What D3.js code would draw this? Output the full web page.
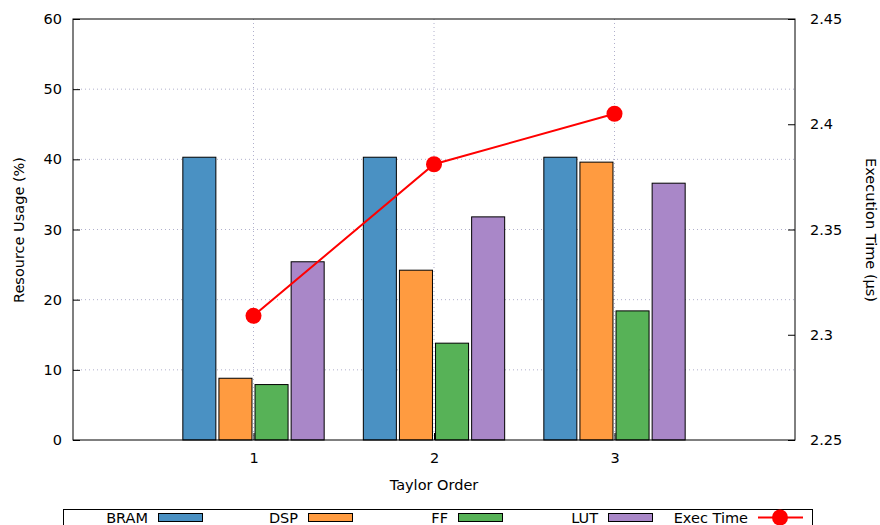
<!DOCTYPE html>
<html>
<head>
<meta charset="utf-8">
<script src="https://cdn.jsdelivr.net/npm/d3@7"></script>
<style>
  html, body { margin: 0; padding: 0; background: #fff; }
  svg { display: block; font-family: "DejaVu Sans", sans-serif; }
</style>
</head>
<body>
<svg id="chart" width="880" height="525"></svg>
<script>
// Taylor order categories and per-resource utilisation (%)
const orders = [1, 2, 3];
const bram = [40.3, 40.3, 40.3];
const dsp = [8.8, 24.2, 39.6];
const ff = [7.9, 13.8, 18.4];
const lut = [25.4, 31.8, 36.6];
// Execution time (µs) on the secondary axis
const execTime = [2.309, 2.381, 2.405];

const leftTicks = [0, 10, 20, 30, 40, 50, 60];
const rightTicks = [2.25, 2.3, 2.35, 2.4, 2.45];

const seriesNames = ["BRAM", "DSP", "FF", "LUT"];
const seriesValues = [bram, dsp, ff, lut];
const seriesColors = ["#4a91c3", "#ff9b40", "#57b257", "#a987c8"];

const svg = d3.select("#chart");
const m = { left: 73, right: 795, top: 19, bottom: 440 };

const x = d3.scaleLinear().domain([0, 4]).range([m.left, m.right]);
const y = d3.scaleLinear().domain([0, 60]).range([m.bottom, m.top]);
const y2 = d3.scaleLinear().domain([2.25, 2.45]).range([m.bottom, m.top]);

const gridColor = "#b0b0cc";
const fontSize = 14.5;

// grid
const grid = svg.append("g");
grid.selectAll("line.h").data(leftTicks.filter(t => t > 0 && t < 60)).join("line")
  .attr("x1", m.left).attr("x2", m.right)
  .attr("y1", d => y(d)).attr("y2", d => y(d))
  .attr("stroke", gridColor).attr("stroke-width", 1).attr("stroke-dasharray", "1,3");
grid.selectAll("line.v").data(orders).join("line")
  .attr("x1", d => x(d)).attr("x2", d => x(d))
  .attr("y1", m.top).attr("y2", m.bottom)
  .attr("stroke", gridColor).attr("stroke-width", 1).attr("stroke-dasharray", "1,3");

// bars
const barW = 0.183;
const offsets = [-0.3, -0.1, 0.1, 0.3];
seriesValues.forEach((vals, si) => {
  svg.append("g").selectAll("rect").data(orders).join("rect")
    .attr("x", (d, i) => x(d + offsets[si] - barW / 2))
    .attr("width", x(barW) - x(0))
    .attr("y", (d, i) => y(vals[i]))
    .attr("height", (d, i) => y(0) - y(vals[i]))
    .attr("fill", seriesColors[si])
    .attr("stroke", "#000").attr("stroke-width", 1);
});

// line series on secondary axis
const line = d3.line().x((d, i) => x(orders[i])).y(d => y2(d));
svg.append("path").datum(execTime)
  .attr("d", line).attr("fill", "none")
  .attr("stroke", "#ff0000").attr("stroke-width", 2);
svg.append("g").selectAll("circle").data(execTime).join("circle")
  .attr("cx", (d, i) => x(orders[i])).attr("cy", d => y2(d))
  .attr("r", 8).attr("fill", "#ff0000");

// axes
const leftAxis = d3.axisLeft(y).tickValues(leftTicks).tickFormat(d3.format("d"))
  .tickSizeInner(-7).tickSizeOuter(0).tickPadding(11);
const gL = svg.append("g").attr("transform", `translate(${m.left},0)`).call(leftAxis);

const rightAxis = d3.axisRight(y2).tickValues(rightTicks).tickFormat(d => String(+d.toFixed(2)))
  .tickSizeInner(-7).tickSizeOuter(0).tickPadding(15);
const gR = svg.append("g").attr("transform", `translate(${m.right},0)`).call(rightAxis);

const bottomAxis = d3.axisBottom(x).tickValues(orders).tickFormat(d3.format("d"))
  .tickSizeInner(-7).tickSizeOuter(0).tickPadding(13);
const gB = svg.append("g").attr("transform", `translate(0,${m.bottom})`).call(bottomAxis);

[gL, gR, gB].forEach(g => {
  g.select(".domain").remove();
  g.selectAll("text").attr("font-size", fontSize).attr("fill", "#000")
    .attr("font-family", "DejaVu Sans, sans-serif");
  g.selectAll(".tick line").attr("stroke", "#000");
});

// frame
svg.append("rect").attr("x", m.left).attr("y", m.top)
  .attr("width", m.right - m.left).attr("height", m.bottom - m.top)
  .attr("fill", "none").attr("stroke", "#000").attr("stroke-width", 1);

// axis titles
svg.append("text").attr("x", (m.left + m.right) / 2).attr("y", 490)
  .attr("text-anchor", "middle").attr("font-size", fontSize).text("Taylor Order");
svg.append("text").attr("transform", `translate(24,230) rotate(-90)`)
  .attr("text-anchor", "middle").attr("font-size", fontSize).text("Resource Usage (%)");
svg.append("text").attr("transform", `translate(866,230) rotate(90)`)
  .attr("text-anchor", "middle").attr("font-size", fontSize).text("Execution Time (µs)");

// legend
svg.append("rect").attr("x", 63.5).attr("y", 509.5).attr("width", 749).attr("height", 30)
  .attr("fill", "none").attr("stroke", "#000").attr("stroke-width", 1);
const legendNames = seriesNames.concat(["Exec Time"]);
const lg = svg.append("g");
legendNames.forEach((name, i) => {
  const tx = 148 + i * 150;
  lg.append("text").attr("x", tx).attr("y", 523).attr("text-anchor", "end")
    .attr("font-size", fontSize).text(name);
  if (i < 4) {
    lg.append("rect").attr("x", 158.5 + i * 150).attr("y", 513.5).attr("width", 44).attr("height", 8)
      .attr("fill", seriesColors[i]).attr("stroke", "#000").attr("stroke-width", 1);
  } else {
    lg.append("line").attr("x1", tx + 10).attr("x2", tx + 55).attr("y1", 517.5).attr("y2", 517.5)
      .attr("stroke", "#ff0000").attr("stroke-width", 2);
    lg.append("circle").attr("cx", tx + 32).attr("cy", 517.5).attr("r", 8).attr("fill", "#ff0000");
  }
});
</script>
</body>
</html>
